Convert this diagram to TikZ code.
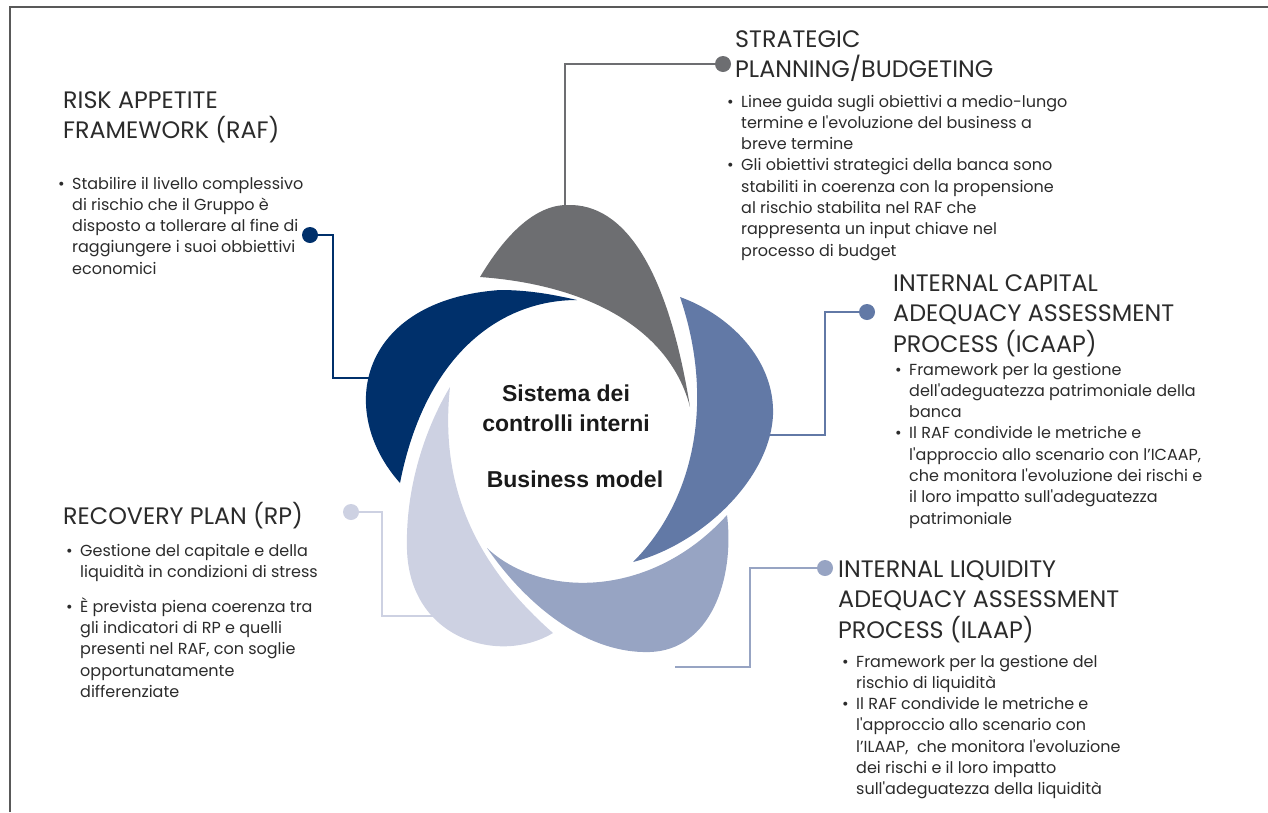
\documentclass[tikz,border=0pt]{standalone}
\usepackage{fontspec}
\setmainfont{Poppins}[Ligatures=TeXOff]
\newfontfamily\centerfont{Liberation Sans}
\definecolor{cNavy}{HTML}{00306B}
\definecolor{cGray}{HTML}{6D6E71}
\definecolor{cBlue}{HTML}{6279A6}
\definecolor{cBG}{HTML}{97A4C3}
\definecolor{cLight}{HTML}{CDD1E2}
\definecolor{cText}{HTML}{2B2B2B}
\definecolor{cCtr}{HTML}{1A1A1A}
\definecolor{cFrame}{HTML}{595959}
\newcommand{\bitem}{\par\hangindent=14pt\hangafter=1\noindent\makebox[14pt][l]{\textbullet}}
\newcommand{\txtblock}[1]{\parbox[t]{440pt}{#1}}
\tikzset{
 ttl/.style={anchor=base west, inner sep=0pt, text=cText, font=\fontsize{23.8}{30.5}\selectfont},
 body/.style={anchor=base west, inner sep=0pt, text=cText, font=\fontsize{16}{21.3}\selectfont},
 ctr/.style={anchor=base, inner sep=0pt, text=cCtr, font=\centerfont\bfseries\fontsize{23}{23}\selectfont},
 dotnode/.style={circle, inner sep=0pt, minimum size=16pt},
 conn/.style={line width=2.8pt}
}
\begin{document}
\begin{tikzpicture}[x=1pt,y=-1pt]
\useasboundingbox (0,0) rectangle (1268,812);
% frame
\coordinate (fBL) at (10,812);
\coordinate (fTL) at (10,7);
\coordinate (fTR) at (1268,7);
\draw[cFrame, line width=2pt] (fBL) -- (fTL) -- (fTR);

% connectors
\node[dotnode, fill=cNavy] (dRAF) at (310,235) {};
\coordinate (kRAF) at (333,235);
\coordinate (eRAF) at (372,378);
\draw[conn, cNavy] (dRAF.center) -- (kRAF) |- (eRAF);

\node[dotnode, fill=cGray] (dSP) at (723,64) {};
\coordinate (kSP) at (565,64);
\coordinate (eSP) at (565,215);
\draw[conn, cGray] (dSP.center) -- (kSP) -- (eSP);

\node[dotnode, fill=cBlue] (dIC) at (867,312) {};
\coordinate (kIC) at (825,312);
\coordinate (eIC) at (765,435);
\draw[conn, cBlue] (dIC.center) -- (kIC) |- (eIC);

\node[dotnode, fill=cBG] (dIL) at (825,568) {};
\coordinate (kIL) at (750,568);
\coordinate (eIL) at (675,667);
\draw[conn, cBG] (dIL.center) -- (kIL) |- (eIL);

\node[dotnode, fill=cLight] (dRP) at (351,512) {};
\coordinate (kRP) at (382,512);
\coordinate (eRP) at (436,616);
\draw[conn, cLight] (dRP.center) -- (kRP) |- (eRP);

% petals
\fill[cGray] (480,277) .. controls (505,235) and (535,205) .. (567,205)
  .. controls (625,203) and (668,270) .. (690,407)
  .. controls (670,330) and (590,285) .. cycle;
\fill[cNavy] (400,483) .. controls (335,410) and (360,300) .. (500,290)
  .. controls (530,290) and (555,295) .. (577,300)
  .. controls (500,300) and (425,355) .. cycle;
\fill[cBlue] (680,297) .. controls (730,315) and (775,360) .. (773,415)
  .. controls (770,480) and (700,545) .. (633,562)
  .. controls (695,500) and (715,400) .. cycle;
\fill[cBG] (727,515) .. controls (735,580) and (710,650) .. (650,652)
  .. controls (590,654) and (530,610) .. (487,548)
  .. controls (540,598) and (650,600) .. cycle;
\fill[cLight] (553,633) .. controls (500,665) and (410,640) .. (407,550)
  .. controls (405,480) and (430,420) .. (450,387)
  .. controls (440,480) and (470,560) .. cycle;

% center text
\node[ctr] (c1) at (566,401) {Sistema dei};
\node[ctr] (c2) at (566,431) {controlli interni};
\node[ctr] (c3) at (575,487) {Business model};

% RAF
\node[ttl] (tRAF) at (63,108) {\txtblock{RISK APPETITE\\FRAMEWORK (RAF)}};
\node[body] (bRAF) at (58,189) {\txtblock{\bitem Stabilire il livello complessivo\\di rischio che il Gruppo è\\disposto a tollerare al fine di\\raggiungere i suoi obbiettivi\\economici}};

% Strategic
\node[ttl] (tSP) at (735,47) {\txtblock{STRATEGIC\\PLANNING/BUDGETING}};
\node[body] (bSP) at (727,107) {\txtblock{\bitem Linee guida sugli obiettivi a medio-lungo\\termine e l'evoluzione del business a\\breve termine
\bitem Gli obiettivi strategici della banca sono\\stabiliti in coerenza con la propensione\\al rischio stabilita nel RAF che\\rappresenta un input chiave nel\\processo di budget}};

% ICAAP
\node[ttl] (tIC) at (893,291) {\txtblock{INTERNAL CAPITAL\\ADEQUACY ASSESSMENT\\PROCESS (ICAAP)}};
\node[body] (bIC) at (895,375) {\txtblock{\bitem Framework per la gestione\\dell'adeguatezza patrimoniale della\\banca
\bitem Il RAF condivide le metriche e\\l'approccio allo scenario con l’ICAAP,\\che monitora l'evoluzione dei rischi e\\il loro impatto sull'adeguatezza\\patrimoniale}};

% ILAAP
\node[ttl] (tIL) at (838,577) {\txtblock{INTERNAL LIQUIDITY\\ADEQUACY ASSESSMENT\\PROCESS (ILAAP)}};
\node[body] (bIL) at (842,667) {\txtblock{\bitem Framework per la gestione del\\rischio di liquidità
\bitem Il RAF condivide le metriche e\\l'approccio allo scenario con\\l’ILAAP,\ \ che monitora l'evoluzione\\dei rischi e il loro impatto\\sull'adeguatezza della liquidità}};

% RP
\node[ttl] (tRP) at (63,524) {\txtblock{RECOVERY PLAN (RP)}};
\node[body] (bRP) at (66,556) {\txtblock{\bitem Gestione del capitale e della\\liquidità in condizioni di stress\par\vspace{13.7pt}
\bitem È prevista piena coerenza tra\\gli indicatori di RP e quelli\\presenti nel RAF, con soglie\\opportunatamente\\differenziate}};
\end{tikzpicture}
\end{document}
